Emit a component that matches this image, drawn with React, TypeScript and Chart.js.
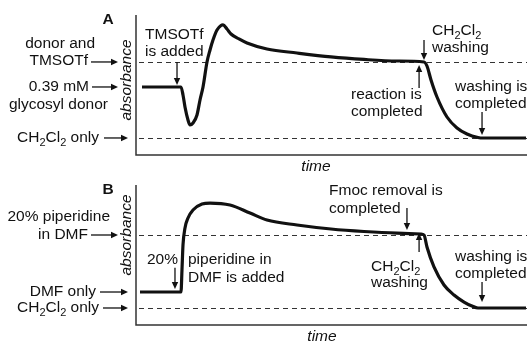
import React, { useEffect, useRef } from "react";
import { Chart, registerables } from "chart.js";
Chart.register(...registerables);

// ---- data (time in arbitrary units 0-100, absorbance normalised: CH2Cl2 only = 0, reagent level = 1)
const timeA = [1.53, 11.51, 12.02, 12.53, 13.3, 13.81, 14.58, 15.6, 16.37, 17.14, 18.16, 18.93, 19.69, 20.72, 21.74, 22.25, 23.27, 24.3, 26.34, 28.39, 33.5, 41.18, 49.87, 58.31, 66.75, 73.66, 74.42, 75.45, 76.98, 79.54, 82.1, 84.65, 87.47, 88.75, 99.74];
const absA = [0.671, 0.671, 0.566, 0.408, 0.237, 0.171, 0.197, 0.303, 0.5, 0.671, 1.0, 1.158, 1.289, 1.421, 1.48, 1.487, 1.434, 1.368, 1.303, 1.25, 1.171, 1.118, 1.066, 1.033, 1.013, 1.0, 0.947, 0.763, 0.539, 0.276, 0.132, 0.053, 0.007, 0, 0];
const timeB = [1.02, 11.51, 11.76, 12.02, 12.53, 13.3, 14.58, 16.88, 18.93, 24.04, 29.16, 33.5, 41.18, 49.87, 58.31, 66.75, 72.89, 73.66, 74.42, 76.21, 78.77, 81.33, 83.89, 85.93, 87.47, 99.74];
const absB = [0.219, 0.219, 0.521, 0.863, 1.096, 1.233, 1.342, 1.425, 1.438, 1.411, 1.301, 1.205, 1.137, 1.082, 1.048, 1.027, 1.014, 1.0, 0.836, 0.562, 0.315, 0.178, 0.082, 0.027, 0, 0];
const levelsA = [0, 1];
const levelsB = [0, 1];
const donorLevelA = 0.671;
const dmfLevelB = 0.219;

const FONT = '"Liberation Sans", Arial, Helvetica, sans-serif';
const SIZE = 15.5;
const INK = "#111";

function drawRich(ctx: CanvasRenderingContext2D, s: string, x: number, y: number, align: string, style = "") {
  const parts = s.split(/(_\d)/).filter((p) => p.length);
  const mainF = `${style} ${SIZE}px ${FONT}`;
  const subF = `${style} ${Math.round(SIZE * 0.7)}px ${FONT}`;
  let total = 0;
  const widths = parts.map((p) => {
    const sub = p.startsWith("_");
    ctx.font = sub ? subF : mainF;
    const w = ctx.measureText(sub ? p.slice(1) : p).width;
    total += w;
    return w;
  });
  let cx = align === "right" ? x - total : align === "center" ? x - total / 2 : x;
  ctx.textAlign = "left";
  ctx.textBaseline = "middle";
  parts.forEach((p, i) => {
    const sub = p.startsWith("_");
    ctx.font = sub ? subF : mainF;
    ctx.fillText(sub ? p.slice(1) : p, cx, sub ? y + SIZE * 0.3 : y);
    cx += widths[i];
  });
}

function arrow(ctx: CanvasRenderingContext2D, x1: number, y1: number, x2: number, y2: number) {
  const ang = Math.atan2(y2 - y1, x2 - x1);
  const hl = 7, hw = 3.2;
  const bx = x2 - Math.cos(ang) * hl, by = y2 - Math.sin(ang) * hl;
  ctx.beginPath();
  ctx.moveTo(x1, y1);
  ctx.lineTo(bx, by);
  ctx.lineWidth = 1.3;
  ctx.strokeStyle = INK;
  ctx.stroke();
  ctx.beginPath();
  ctx.moveTo(x2, y2);
  ctx.lineTo(bx + Math.sin(ang) * hw, by - Math.cos(ang) * hw);
  ctx.lineTo(bx - Math.sin(ang) * hw, by + Math.cos(ang) * hw);
  ctx.closePath();
  ctx.fillStyle = INK;
  ctx.fill();
}

type Panel = {
  time: number[];
  abs: number[];
  levels: number[];
  yMin: number;
  yMax: number;
  pad: { left: number; right: number; top: number; bottom: number };
  letter: [string, number, number];
  outer: [string, number, number][];
  outerArrows: { x1: number; x2: number; level: number }[];
  absorbance: [number, number];
  inner: [string, number, number][];
  innerArrows: { x: number; y1: number; y2: number }[];
  time_: [number, number];
};

const panelA: Panel = {
  time: timeA,
  abs: absA,
  levels: levelsA,
  yMin: -0.224,
  yMax: 1.618,
  pad: { left: 136, right: 0, top: 15, bottom: 16 },
  letter: ["A", 108, 20],
  outer: [["donor and", 95, 44], ["TMSOTf", 88, 61], ["0.39 mM", 89, 87], ["glycosyl donor", 108, 105], ["CH_2Cl_2 only", 99, 138]],
  outerArrows: [{ x1: 91, x2: 118, level: 1 }, { x1: 92, x2: 118, level: donorLevelA }, { x1: 104, x2: 128, level: 0 }],
  absorbance: [127, 80],
  inner: [["TMSOTf", 145, 35], ["is added", 145, 52], ["CH_2Cl_2", 432, 31], ["washing", 432, 48], ["reaction is", 351, 95], ["completed", 351, 112], ["washing is", 455, 87], ["completed", 455, 104]],
  innerArrows: [{ x: 10.49, y1: 1.0, y2: 0.697 }, { x: 73.66, y1: 1.289, y2: 1.026 }, { x: 72.4, y1: 0.658, y2: 0.961 }, { x: 88.5, y1: 0.342, y2: 0.039 }],
  time_: [316, 167],
};

const panelB: Panel = {
  time: timeB,
  abs: absB,
  levels: levelsB,
  yMin: -0.233,
  yMax: 1.685,
  pad: { left: 136, right: 0, top: 14, bottom: 17 },
  letter: ["B", 108, 19],
  outer: [["20% piperidine", 110, 46], ["in DMF", 88, 64], ["DMF only", 96, 121], ["CH_2Cl_2 only", 99, 137]],
  outerArrows: [{ x1: 91, x2: 118, level: 1 }, { x1: 100, x2: 128, level: dmfLevelB }, { x1: 103, x2: 128, level: 0 }],
  absorbance: [127, 64],
  inner: [["20%", 147, 89], ["piperidine in", 188, 89], ["DMF is added", 188, 107], ["Fmoc removal is", 329, 20], ["completed", 329, 38], ["CH_2Cl_2", 371, 96], ["washing", 371, 112], ["washing is", 455, 86], ["completed", 455, 103]],
  innerArrows: [{ x: 9.97, y1: 0.55, y2: 0.26 }, { x: 69.3, y1: 1.37, y2: 1.068 }, { x: 72.4, y1: 0.767, y2: 1.027 }, { x: 88.5, y1: 0.356, y2: 0.082 }],
  time_: [322, 166],
};

function makePlugin(p: Panel) {
  return {
    id: "schematic",
    beforeDatasetsDraw(chart: any) {
      const ctx = chart.ctx as CanvasRenderingContext2D;
      const a = chart.chartArea;
      const ys = chart.scales.y;
      ctx.save();
      // dashed reference levels
      ctx.setLineDash([5, 4]);
      ctx.lineWidth = 1;
      ctx.strokeStyle = "#333";
      p.levels.forEach((lv) => {
        const y = Math.round(ys.getPixelForValue(lv)) + 0.5;
        ctx.beginPath();
        ctx.moveTo(a.left + 3, y);
        ctx.lineTo(a.right, y);
        ctx.stroke();
      });
      ctx.setLineDash([]);
      // axes
      ctx.strokeStyle = "#333";
      ctx.lineWidth = 1.5;
      ctx.beginPath();
      ctx.moveTo(a.left, a.top);
      ctx.lineTo(a.left, a.bottom);
      ctx.lineTo(a.right, a.bottom);
      ctx.stroke();
      ctx.restore();
    },
    afterDraw(chart: any) {
      const ctx = chart.ctx as CanvasRenderingContext2D;
      const xs = chart.scales.x;
      const ys = chart.scales.y;
      ctx.save();
      ctx.fillStyle = INK;
      drawRich(ctx, p.letter[0], p.letter[1], p.letter[2], "center", "bold");
      p.outer.forEach(([t, x, y]) => { ctx.fillStyle = INK; drawRich(ctx, t, x, y, "right"); });
      p.outerArrows.forEach((ar) => {
        const y = ys.getPixelForValue(ar.level);
        arrow(ctx, ar.x1, y, ar.x2, y);
      });
      p.inner.forEach(([t, x, y]) => { ctx.fillStyle = INK; drawRich(ctx, t, x, y, "left"); });
      p.innerArrows.forEach((ar) => {
        const x = xs.getPixelForValue(ar.x);
        arrow(ctx, x, ys.getPixelForValue(ar.y1), x, ys.getPixelForValue(ar.y2));
      });
      // axis titles
      ctx.fillStyle = INK;
      ctx.save();
      ctx.translate(p.absorbance[0], p.absorbance[1]);
      ctx.rotate(-Math.PI / 2);
      drawRich(ctx, "absorbance", 0, 0, "center", "italic");
      ctx.restore();
      ctx.fillStyle = INK;
      drawRich(ctx, "time", p.time_[0], p.time_[1], "center", "italic");
      ctx.restore();
    },
  };
}

function PanelChart({ panel, top }: { panel: Panel; top: number }) {
  const ref = useRef<HTMLCanvasElement>(null);
  useEffect(() => {
    if (!ref.current) return;
    const chart = new Chart(ref.current, {
      type: "line",
      data: {
        datasets: [
          {
            data: panel.time.map((t, i) => ({ x: t, y: panel.abs[i] })),
            borderColor: INK,
            borderWidth: 3.2,
            pointRadius: 0,
            cubicInterpolationMode: "monotone",
            borderJoinStyle: "round",
            fill: false,
          },
        ],
      },
      options: {
        responsive: false,
        animation: false,
        devicePixelRatio: 1,
        layout: { padding: panel.pad },
        plugins: { legend: { display: false }, tooltip: { enabled: false } },
        events: [],
        scales: {
          x: { type: "linear", min: 0, max: 100, display: false },
          y: { type: "linear", min: panel.yMin, max: panel.yMax, display: false },
        },
      },
      plugins: [makePlugin(panel)],
    } as any);
    return () => chart.destroy();
  }, [panel]);
  return (
    <canvas
      ref={ref}
      width={527}
      height={171}
      style={{ position: "absolute", left: 0, top, width: 527, height: 171 }}
    />
  );
}

export default function App() {
  return (
    <div style={{ position: "fixed", left: 0, top: 0, width: 527, height: 342, background: "#fff" }}>
      <PanelChart panel={panelA} top={0} />
      <PanelChart panel={panelB} top={171} />
    </div>
  );
}
